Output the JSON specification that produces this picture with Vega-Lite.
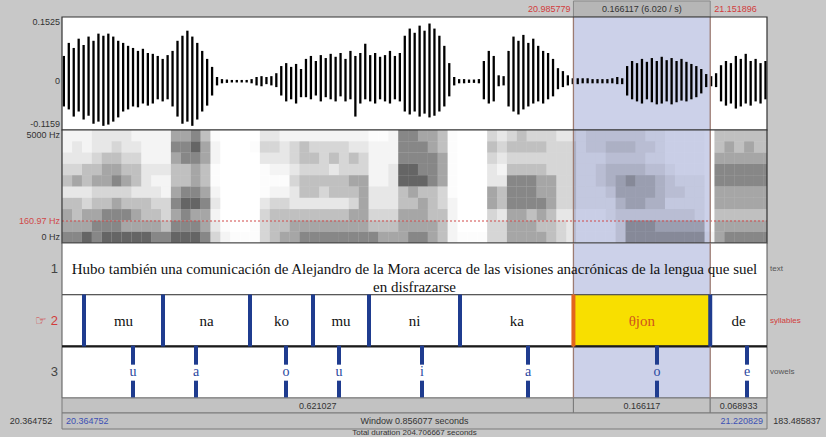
{
"$schema":"https://vega.github.io/schema/vega-lite/v6.json",
"background":"#c8c8c8",
"padding":0,
"spacing":0,
"bounds":"flush",
"config":{"view":{"stroke":null},"font":"Liberation Sans"},
"datasets":{
"sel":[{"s":20.985779,"e":21.151896,"m":21.0688375,"len":"0.166117 (6.020 / s)","sl":"20.985779","el":"21.151896"}],
"wave":[
{"t":20.367,"hi":0.060,"lo":-0.060},{"t":20.373,"hi":0.091,"lo":-0.067},{"t":20.379,"hi":0.079,"lo":-0.084},{"t":20.385,"hi":0.101,"lo":-0.072},
{"t":20.391,"hi":0.086,"lo":-0.091},{"t":20.397,"hi":0.106,"lo":-0.082},{"t":20.403,"hi":0.096,"lo":-0.101},{"t":20.409,"hi":0.113,"lo":-0.096},
{"t":20.415,"hi":0.108,"lo":-0.106},{"t":20.421,"hi":0.113,"lo":-0.103},{"t":20.427,"hi":0.106,"lo":-0.096},{"t":20.433,"hi":0.096,"lo":-0.086},
{"t":20.439,"hi":0.091,"lo":-0.072},{"t":20.445,"hi":0.084,"lo":-0.067},{"t":20.451,"hi":0.079,"lo":-0.060},{"t":20.457,"hi":0.072,"lo":-0.062},
{"t":20.463,"hi":0.077,"lo":-0.053},{"t":20.469,"hi":0.067,"lo":-0.058},{"t":20.475,"hi":0.065,"lo":-0.053},{"t":20.481,"hi":0.060,"lo":-0.043},
{"t":20.487,"hi":0.053,"lo":-0.048},{"t":20.493,"hi":0.062,"lo":-0.043},{"t":20.499,"hi":0.072,"lo":-0.060},{"t":20.505,"hi":0.096,"lo":-0.084},
{"t":20.511,"hi":0.108,"lo":-0.101},{"t":20.517,"hi":0.120,"lo":-0.096},{"t":20.523,"hi":0.106,"lo":-0.106},{"t":20.529,"hi":0.091,"lo":-0.091},
{"t":20.535,"hi":0.072,"lo":-0.072},{"t":20.541,"hi":0.053,"lo":-0.058},{"t":20.547,"hi":0.034,"lo":-0.034},{"t":20.553,"hi":0.010,"lo":-0.010},
{"t":20.559,"hi":0.005,"lo":-0.005},{"t":20.565,"hi":0.004,"lo":-0.004},{"t":20.571,"hi":0.003,"lo":-0.003},{"t":20.577,"hi":0.003,"lo":-0.003},
{"t":20.583,"hi":0.003,"lo":-0.003},{"t":20.589,"hi":0.003,"lo":-0.003},{"t":20.595,"hi":0.005,"lo":-0.005},{"t":20.601,"hi":0.010,"lo":-0.010},
{"t":20.607,"hi":0.012,"lo":-0.012},{"t":20.613,"hi":0.010,"lo":-0.007},{"t":20.619,"hi":0.012,"lo":-0.010},{"t":20.625,"hi":0.019,"lo":-0.014},
{"t":20.631,"hi":0.036,"lo":-0.034},{"t":20.637,"hi":0.043,"lo":-0.048},{"t":20.643,"hi":0.034,"lo":-0.043},{"t":20.649,"hi":0.041,"lo":-0.053},
{"t":20.655,"hi":0.029,"lo":-0.038},{"t":20.661,"hi":0.053,"lo":-0.038},{"t":20.667,"hi":0.060,"lo":-0.043},{"t":20.673,"hi":0.048,"lo":-0.034},
{"t":20.679,"hi":0.062,"lo":-0.048},{"t":20.685,"hi":0.055,"lo":-0.038},{"t":20.691,"hi":0.065,"lo":-0.043},{"t":20.697,"hi":0.058,"lo":-0.048},
{"t":20.703,"hi":0.067,"lo":-0.036},{"t":20.709,"hi":0.053,"lo":-0.048},{"t":20.715,"hi":0.072,"lo":-0.043},{"t":20.721,"hi":0.060,"lo":-0.084},
{"t":20.727,"hi":0.067,"lo":-0.053},{"t":20.733,"hi":0.089,"lo":-0.043},{"t":20.739,"hi":0.062,"lo":-0.048},{"t":20.745,"hi":0.067,"lo":-0.053},
{"t":20.751,"hi":0.058,"lo":-0.043},{"t":20.757,"hi":0.062,"lo":-0.048},{"t":20.763,"hi":0.072,"lo":-0.053},{"t":20.769,"hi":0.060,"lo":-0.043},
{"t":20.775,"hi":0.067,"lo":-0.048},{"t":20.781,"hi":0.108,"lo":-0.072},{"t":20.787,"hi":0.125,"lo":-0.079},{"t":20.793,"hi":0.115,"lo":-0.072},
{"t":20.799,"hi":0.132,"lo":-0.084},{"t":20.805,"hi":0.120,"lo":-0.077},{"t":20.811,"hi":0.137,"lo":-0.086},{"t":20.817,"hi":0.125,"lo":-0.082},
{"t":20.823,"hi":0.108,"lo":-0.072},{"t":20.829,"hi":0.084,"lo":-0.060},{"t":20.835,"hi":0.043,"lo":-0.036},{"t":20.841,"hi":0.010,"lo":-0.010},
{"t":20.847,"hi":0.005,"lo":-0.005},{"t":20.853,"hi":0.005,"lo":-0.005},{"t":20.859,"hi":0.004,"lo":-0.004},{"t":20.865,"hi":0.004,"lo":-0.004},
{"t":20.871,"hi":0.005,"lo":-0.005},{"t":20.877,"hi":0.048,"lo":-0.043},{"t":20.883,"hi":0.072,"lo":-0.053},{"t":20.889,"hi":0.060,"lo":-0.048},
{"t":20.895,"hi":0.014,"lo":-0.012},{"t":20.901,"hi":0.012,"lo":-0.010},{"t":20.907,"hi":0.072,"lo":-0.060},{"t":20.913,"hi":0.106,"lo":-0.072},
{"t":20.919,"hi":0.096,"lo":-0.079},{"t":20.925,"hi":0.110,"lo":-0.067},{"t":20.931,"hi":0.091,"lo":-0.060},{"t":20.937,"hi":0.101,"lo":-0.053},
{"t":20.943,"hi":0.084,"lo":-0.048},{"t":20.949,"hi":0.072,"lo":-0.053},{"t":20.955,"hi":0.067,"lo":-0.043},{"t":20.961,"hi":0.053,"lo":-0.036},
{"t":20.967,"hi":0.031,"lo":-0.019},{"t":20.973,"hi":0.024,"lo":-0.014},{"t":20.979,"hi":0.014,"lo":-0.010},{"t":20.985,"hi":0.007,"lo":-0.007},
{"t":20.991,"hi":0.007,"lo":-0.007},{"t":20.997,"hi":0.007,"lo":-0.005},{"t":21.003,"hi":0.007,"lo":-0.005},{"t":21.009,"hi":0.005,"lo":-0.005},
{"t":21.015,"hi":0.005,"lo":-0.005},{"t":21.021,"hi":0.005,"lo":-0.005},{"t":21.027,"hi":0.005,"lo":-0.005},{"t":21.033,"hi":0.007,"lo":-0.005},
{"t":21.039,"hi":0.010,"lo":-0.007},{"t":21.045,"hi":0.007,"lo":-0.007},{"t":21.051,"hi":0.036,"lo":-0.034},{"t":21.057,"hi":0.048,"lo":-0.043},
{"t":21.063,"hi":0.043,"lo":-0.048},{"t":21.069,"hi":0.053,"lo":-0.053},{"t":21.075,"hi":0.046,"lo":-0.043},{"t":21.081,"hi":0.055,"lo":-0.050},
{"t":21.087,"hi":0.048,"lo":-0.055},{"t":21.093,"hi":0.058,"lo":-0.053},{"t":21.099,"hi":0.050,"lo":-0.048},{"t":21.105,"hi":0.055,"lo":-0.055},
{"t":21.111,"hi":0.048,"lo":-0.050},{"t":21.117,"hi":0.053,"lo":-0.046},{"t":21.123,"hi":0.046,"lo":-0.048},{"t":21.129,"hi":0.041,"lo":-0.043},
{"t":21.135,"hi":0.036,"lo":-0.038},{"t":21.141,"hi":0.029,"lo":-0.029},{"t":21.147,"hi":0.017,"lo":-0.014},{"t":21.153,"hi":0.012,"lo":-0.012},
{"t":21.159,"hi":0.019,"lo":-0.014},{"t":21.165,"hi":0.038,"lo":-0.048},{"t":21.171,"hi":0.048,"lo":-0.058},{"t":21.177,"hi":0.043,"lo":-0.053},
{"t":21.183,"hi":0.060,"lo":-0.065},{"t":21.189,"hi":0.053,"lo":-0.060},{"t":21.195,"hi":0.065,"lo":-0.053},{"t":21.201,"hi":0.048,"lo":-0.058},
{"t":21.207,"hi":0.053,"lo":-0.048},{"t":21.213,"hi":0.043,"lo":-0.053},{"t":21.219,"hi":0.048,"lo":-0.043}
],
"spec":[
{"t":20.365,"u":20.377,"h0":7,"h1":6,"h2":6,"h3":5,"h4":3,"h5":5,"h6":4,"h7":3,"h8":2,"h9":2},
{"t":20.377,"u":20.389,"h0":7,"h1":6,"h2":5,"h3":5,"h4":3,"h5":6,"h6":4,"h7":3,"h8":3,"h9":2},
{"t":20.389,"u":20.401,"h0":8,"h1":6,"h2":6,"h3":4,"h4":3,"h5":5,"h6":5,"h7":3,"h8":2,"h9":2},
{"t":20.401,"u":20.413,"h0":7,"h1":7,"h2":6,"h3":5,"h4":4,"h5":6,"h6":5,"h7":4,"h8":3,"h9":3},
{"t":20.413,"u":20.425,"h0":8,"h1":7,"h2":7,"h3":5,"h4":4,"h5":6,"h6":6,"h7":5,"h8":3,"h9":3},
{"t":20.425,"u":20.437,"h0":8,"h1":7,"h2":7,"h3":6,"h4":4,"h5":7,"h6":6,"h7":5,"h8":4,"h9":3},
{"t":20.437,"u":20.449,"h0":8,"h1":6,"h2":7,"h3":5,"h4":4,"h5":6,"h6":5,"h7":4,"h8":3,"h9":3},
{"t":20.449,"u":20.461,"h0":8,"h1":6,"h2":6,"h3":5,"h4":3,"h5":5,"h6":5,"h7":4,"h8":3,"h9":2},
{"t":20.461,"u":20.473,"h0":8,"h1":6,"h2":5,"h3":5,"h4":3,"h5":3,"h6":3,"h7":2,"h8":2,"h9":2},
{"t":20.473,"u":20.485,"h0":7,"h1":6,"h2":5,"h3":4,"h4":3,"h5":2,"h6":3,"h7":2,"h8":2,"h9":2},
{"t":20.485,"u":20.497,"h0":7,"h1":5,"h2":4,"h3":4,"h4":2,"h5":2,"h6":3,"h7":2,"h8":2,"h9":2},
{"t":20.497,"u":20.509,"h0":8,"h1":7,"h2":6,"h3":7,"h4":6,"h5":5,"h6":5,"h7":6,"h8":7,"h9":6},
{"t":20.509,"u":20.521,"h0":8,"h1":7,"h2":7,"h3":8,"h4":7,"h5":5,"h6":5,"h7":7,"h8":7,"h9":6},
{"t":20.521,"u":20.533,"h0":8,"h1":7,"h2":6,"h3":8,"h4":7,"h5":6,"h6":6,"h7":7,"h8":8,"h9":7},
{"t":20.533,"u":20.545,"h0":7,"h1":6,"h2":6,"h3":7,"h4":6,"h5":5,"h6":5,"h7":6,"h8":6,"h9":5},
{"t":20.545,"u":20.557,"h0":4,"h1":3,"h2":2,"h3":3,"h4":2,"h5":1,"h6":1,"h7":2,"h8":2,"h9":1},
{"t":20.557,"u":20.569,"h0":2,"h1":1,"h2":0,"h3":0,"h4":0,"h5":0,"h6":0,"h7":0,"h8":0,"h9":0},
{"t":20.569,"u":20.581,"h0":1,"h1":0,"h2":0,"h3":0,"h4":0,"h5":0,"h6":0,"h7":0,"h8":0,"h9":0},
{"t":20.581,"u":20.593,"h0":1,"h1":0,"h2":0,"h3":0,"h4":0,"h5":0,"h6":0,"h7":0,"h8":0,"h9":0},
{"t":20.593,"u":20.605,"h0":1,"h1":1,"h2":0,"h3":0,"h4":0,"h5":0,"h6":0,"h7":0,"h8":1,"h9":0},
{"t":20.605,"u":20.617,"h0":4,"h1":4,"h2":4,"h3":3,"h4":1,"h5":1,"h6":1,"h7":3,"h8":4,"h9":3},
{"t":20.617,"u":20.629,"h0":5,"h1":5,"h2":5,"h3":4,"h4":2,"h5":1,"h6":2,"h7":3,"h8":4,"h9":3},
{"t":20.629,"u":20.641,"h0":6,"h1":5,"h2":5,"h3":4,"h4":2,"h5":1,"h6":2,"h7":3,"h8":3,"h9":2},
{"t":20.641,"u":20.653,"h0":6,"h1":6,"h2":5,"h3":3,"h4":3,"h5":4,"h6":3,"h7":4,"h8":4,"h9":2},
{"t":20.653,"u":20.665,"h0":7,"h1":6,"h2":5,"h3":3,"h4":5,"h5":5,"h6":4,"h7":5,"h8":5,"h9":2},
{"t":20.665,"u":20.677,"h0":7,"h1":6,"h2":5,"h3":3,"h4":5,"h5":5,"h6":4,"h7":5,"h8":4,"h9":2},
{"t":20.677,"u":20.689,"h0":7,"h1":6,"h2":5,"h3":3,"h4":4,"h5":5,"h6":4,"h7":4,"h8":4,"h9":2},
{"t":20.689,"u":20.701,"h0":7,"h1":6,"h2":5,"h3":3,"h4":5,"h5":5,"h6":3,"h7":5,"h8":4,"h9":2},
{"t":20.701,"u":20.713,"h0":7,"h1":6,"h2":5,"h3":3,"h4":5,"h5":5,"h6":4,"h7":4,"h8":4,"h9":2},
{"t":20.713,"u":20.725,"h0":7,"h1":6,"h2":6,"h3":4,"h4":5,"h5":6,"h6":4,"h7":5,"h8":3,"h9":2},
{"t":20.725,"u":20.737,"h0":7,"h1":6,"h2":6,"h3":6,"h4":6,"h5":6,"h6":4,"h7":4,"h8":3,"h9":2},
{"t":20.737,"u":20.749,"h0":7,"h1":5,"h2":4,"h3":3,"h4":3,"h5":2,"h6":2,"h7":2,"h8":2,"h9":1},
{"t":20.749,"u":20.761,"h0":6,"h1":5,"h2":4,"h3":3,"h4":3,"h5":2,"h6":2,"h7":2,"h8":2,"h9":1},
{"t":20.761,"u":20.773,"h0":6,"h1":5,"h2":4,"h3":3,"h4":3,"h5":3,"h6":3,"h7":2,"h8":2,"h9":2},
{"t":20.773,"u":20.785,"h0":6,"h1":6,"h2":6,"h3":5,"h4":5,"h5":8,"h6":8,"h7":7,"h8":7,"h9":7},
{"t":20.785,"u":20.797,"h0":7,"h1":6,"h2":6,"h3":5,"h4":6,"h5":8,"h6":8,"h7":7,"h8":7,"h9":7},
{"t":20.797,"u":20.809,"h0":7,"h1":6,"h2":6,"h3":6,"h4":5,"h5":8,"h6":7,"h7":7,"h8":7,"h9":6},
{"t":20.809,"u":20.821,"h0":6,"h1":6,"h2":5,"h3":5,"h4":5,"h5":7,"h6":7,"h7":7,"h8":6,"h9":6},
{"t":20.821,"u":20.833,"h0":5,"h1":5,"h2":5,"h3":4,"h4":4,"h5":6,"h6":6,"h7":6,"h8":5,"h9":5},
{"t":20.833,"u":20.845,"h0":2,"h1":2,"h2":2,"h3":2,"h4":1,"h5":1,"h6":1,"h7":1,"h8":1,"h9":1},
{"t":20.845,"u":20.857,"h0":1,"h1":0,"h2":0,"h3":0,"h4":0,"h5":0,"h6":0,"h7":0,"h8":0,"h9":0},
{"t":20.857,"u":20.869,"h0":1,"h1":0,"h2":0,"h3":0,"h4":0,"h5":0,"h6":0,"h7":0,"h8":0,"h9":0},
{"t":20.869,"u":20.881,"h0":1,"h1":0,"h2":0,"h3":0,"h4":0,"h5":0,"h6":0,"h7":0,"h8":0,"h9":0},
{"t":20.881,"u":20.893,"h0":4,"h1":4,"h2":4,"h3":6,"h4":6,"h5":3,"h6":3,"h7":4,"h8":5,"h9":4},
{"t":20.893,"u":20.905,"h0":4,"h1":4,"h2":3,"h3":5,"h4":5,"h5":3,"h6":2,"h7":3,"h8":4,"h9":3},
{"t":20.905,"u":20.917,"h0":6,"h1":6,"h2":6,"h3":7,"h4":7,"h5":7,"h6":5,"h7":4,"h8":5,"h9":4},
{"t":20.917,"u":20.929,"h0":6,"h1":6,"h2":6,"h3":7,"h4":7,"h5":7,"h6":5,"h7":4,"h8":5,"h9":5},
{"t":20.929,"u":20.941,"h0":6,"h1":6,"h2":5,"h3":7,"h4":7,"h5":7,"h6":5,"h7":4,"h8":5,"h9":4},
{"t":20.941,"u":20.953,"h0":6,"h1":5,"h2":6,"h3":7,"h4":6,"h5":6,"h6":5,"h7":4,"h8":5,"h9":4},
{"t":20.953,"u":20.965,"h0":5,"h1":5,"h2":5,"h3":6,"h4":6,"h5":6,"h6":4,"h7":4,"h8":4,"h9":4},
{"t":20.965,"u":20.977,"h0":4,"h1":4,"h2":3,"h3":4,"h4":4,"h5":4,"h6":4,"h7":4,"h8":4,"h9":3},
{"t":20.977,"u":20.989,"h0":3,"h1":3,"h2":3,"h3":4,"h4":4,"h5":4,"h6":4,"h7":4,"h8":4,"h9":3},
{"t":20.989,"u":21.001,"h0":1,"h1":1,"h2":1,"h3":2,"h4":2,"h5":2,"h6":2,"h7":2,"h8":2,"h9":2},
{"t":21.001,"u":21.013,"h0":1,"h1":1,"h2":1,"h3":2,"h4":2,"h5":2,"h6":2,"h7":2,"h8":3,"h9":3},
{"t":21.013,"u":21.025,"h0":1,"h1":1,"h2":1,"h3":2,"h4":2,"h5":3,"h6":3,"h7":2,"h8":3,"h9":3},
{"t":21.025,"u":21.037,"h0":1,"h1":1,"h2":2,"h3":2,"h4":3,"h5":4,"h6":4,"h7":3,"h8":4,"h9":3},
{"t":21.037,"u":21.049,"h0":3,"h1":3,"h2":3,"h3":4,"h4":5,"h5":5,"h6":4,"h7":3,"h8":4,"h9":3},
{"t":21.049,"u":21.061,"h0":6,"h1":6,"h2":3,"h3":5,"h4":5,"h5":6,"h6":4,"h7":3,"h8":4,"h9":3},
{"t":21.061,"u":21.073,"h0":6,"h1":6,"h2":3,"h3":5,"h4":5,"h5":5,"h6":4,"h7":3,"h8":3,"h9":3},
{"t":21.073,"u":21.085,"h0":6,"h1":6,"h2":3,"h3":4,"h4":5,"h5":5,"h6":3,"h7":2,"h8":3,"h9":2},
{"t":21.085,"u":21.097,"h0":6,"h1":5,"h2":3,"h3":4,"h4":4,"h5":4,"h6":3,"h7":2,"h8":2,"h9":2},
{"t":21.097,"u":21.109,"h0":6,"h1":5,"h2":3,"h3":2,"h4":3,"h5":3,"h6":2,"h7":1,"h8":1,"h9":1},
{"t":21.109,"u":21.121,"h0":6,"h1":5,"h2":3,"h3":2,"h4":3,"h5":2,"h6":1,"h7":1,"h8":1,"h9":1},
{"t":21.121,"u":21.133,"h0":6,"h1":5,"h2":3,"h3":2,"h4":2,"h5":2,"h6":1,"h7":1,"h8":1,"h9":1},
{"t":21.133,"u":21.145,"h0":6,"h1":5,"h2":2,"h3":2,"h4":2,"h5":2,"h6":1,"h7":1,"h8":1,"h9":1},
{"t":21.145,"u":21.157,"h0":2,"h1":1,"h2":0,"h3":0,"h4":0,"h5":0,"h6":0,"h7":0,"h8":0,"h9":0},
{"t":21.157,"u":21.169,"h0":6,"h1":6,"h2":5,"h3":6,"h4":6,"h5":7,"h6":7,"h7":6,"h8":5,"h9":5},
{"t":21.169,"u":21.181,"h0":7,"h1":6,"h2":5,"h3":6,"h4":6,"h5":7,"h6":7,"h7":6,"h8":6,"h9":5},
{"t":21.181,"u":21.193,"h0":7,"h1":6,"h2":5,"h3":6,"h4":6,"h5":7,"h6":7,"h7":6,"h8":5,"h9":5},
{"t":21.193,"u":21.205,"h0":7,"h1":6,"h2":5,"h3":6,"h4":6,"h5":7,"h6":7,"h7":6,"h8":6,"h9":5},
{"t":21.205,"u":21.217,"h0":7,"h1":6,"h2":5,"h3":6,"h4":6,"h5":7,"h6":7,"h7":6,"h8":5,"h9":5},
{"t":21.217,"u":21.2208,"h0":7,"h1":6,"h2":5,"h3":6,"h4":6,"h5":7,"h6":7,"h7":6,"h8":5,"h9":5}
],
"syl":[
{"syl":"mu","tier":"syllables","start":20.39146,"end":20.48739,"mid":20.43943},
{"syl":"na","tier":"syllables","start":20.48739,"end":20.59304,"mid":20.54022},
{"syl":"ko","tier":"syllables","start":20.59304,"end":20.66954,"mid":20.63129},
{"syl":"mu","tier":"syllables","start":20.66954,"end":20.73754,"mid":20.70354},
{"syl":"ni","tier":"syllables","start":20.73754,"end":20.84804,"mid":20.79279},
{"syl":"ka","tier":"syllables","start":20.84804,"end":20.985779,"mid":20.91691},
{"syl":"θjon","tier":"syllables","start":20.985779,"end":21.151896,"mid":21.06884},
{"syl":"de","tier":"syllables","start":21.151896,"end":21.220829,"mid":21.18636}
],
"vow":[
{"v":"u","tier":"vowels","t":20.45097},{"v":"a","tier":"vowels","t":20.52747},{"v":"o","tier":"vowels","t":20.63676},{"v":"u","tier":"vowels","t":20.70111},
{"v":"i","tier":"vowels","t":20.80190},{"v":"a","tier":"vowels","t":20.93061},{"v":"o","tier":"vowels","t":21.08726},{"v":"e","tier":"vowels","t":21.19655}
],
"tiers":[{"tier":"text","n":"1"},{"tier":"syllables","n":"☞ 2"},{"tier":"vowels","n":"3"}],
"txt":[{"tier":"text","lines":["Hubo también una comunicación de Alejandro de la Mora acerca de las visiones anacrónicas de la lengua que suel","en disfrazarse"]}],
"dur":[
{"s":20.364752,"e":20.985779,"m":20.6752655,"lab":"0.621027"},
{"s":20.985779,"e":21.151896,"m":21.0688375,"lab":"0.166117"},
{"s":21.151896,"e":21.220829,"m":21.1863625,"lab":"0.068933"}
]
},
"vconcat":[
{
"width":826,"height":16,
"data":{"name":"sel"},
"layer":[
{"mark":{"type":"rect","fill":"#b6b6b6","stroke":"#888888","strokeWidth":1},
 "encoding":{"x":{"field":"s","type":"quantitative","scale":{"domain":[20.364752,21.220829],"range":[62,767]},"axis":null},"x2":{"field":"e"}}},
{"mark":{"type":"text","align":"right","dx":-3,"fontSize":9,"color":"#d23c3c"},
 "encoding":{"x":{"field":"s","type":"quantitative","scale":{"domain":[20.364752,21.220829],"range":[62,767]},"axis":null},"text":{"field":"sl"}}},
{"mark":{"type":"text","align":"center","fontSize":9,"color":"#333333"},
 "encoding":{"x":{"field":"m","type":"quantitative","scale":{"domain":[20.364752,21.220829],"range":[62,767]},"axis":null},"text":{"field":"len"}}},
{"mark":{"type":"text","align":"left","dx":4,"fontSize":9,"color":"#d23c3c"},
 "encoding":{"x":{"field":"e","type":"quantitative","scale":{"domain":[20.364752,21.220829],"range":[62,767]},"axis":null},"text":{"field":"el"}}}
]
},
{
"width":826,"height":113,
"layer":[
{"data":{"values":[{}]},"mark":{"type":"rect","fill":"white"},
 "encoding":{"x":{"datum":20.364752,"type":"quantitative","scale":{"domain":[20.364752,21.220829],"range":[62,767]},"axis":null},"x2":{"datum":21.220829}}},
{"data":{"name":"sel"},"mark":{"type":"rect","fill":"#ccd1e9"},
 "encoding":{"x":{"field":"s","type":"quantitative","scale":{"domain":[20.364752,21.220829],"range":[62,767]},"axis":null},"x2":{"field":"e"}}},
{"data":{"name":"wave"},"mark":{"type":"rule","color":"#000000","strokeWidth":2.3},
 "encoding":{"x":{"field":"t","type":"quantitative","scale":{"domain":[20.364752,21.220829],"range":[62,767]},"axis":null},
  "y":{"field":"hi","type":"quantitative","scale":{"domain":[-0.1159,0.1525],"nice":false,"zero":false},"axis":null},"y2":{"field":"lo"}}},
{"data":{"name":"sel"},"transform":[{"fold":["s","e"],"as":["edge","te"]}],"mark":{"type":"rule","color":"#9c7b72","strokeWidth":1.3},
 "encoding":{"x":{"field":"te","type":"quantitative","scale":{"domain":[20.364752,21.220829],"range":[62,767]},"axis":null}}},
{"data":{"values":[{}]},"mark":{"type":"rect","fillOpacity":0,"stroke":"#333333","strokeWidth":1.2},
 "encoding":{"x":{"datum":20.364752,"type":"quantitative","scale":{"domain":[20.364752,21.220829],"range":[62,767]},"axis":null},"x2":{"datum":21.220829}}},
{"data":{"values":[{}]},"mark":{"type":"text","align":"right","baseline":"top","dx":-2,"dy":1,"fontSize":9,"color":"#333333"},
 "encoding":{"x":{"datum":20.364752,"type":"quantitative","scale":{"domain":[20.364752,21.220829],"range":[62,767]},"axis":null},
  "y":{"datum":0.1525,"type":"quantitative","scale":{"domain":[-0.1159,0.1525],"nice":false,"zero":false},"axis":null},"text":{"value":"0.1525"}}},
{"data":{"values":[{}]},"mark":{"type":"text","align":"right","baseline":"middle","dx":-2,"fontSize":9,"color":"#333333"},
 "encoding":{"x":{"datum":20.364752,"type":"quantitative","scale":{"domain":[20.364752,21.220829],"range":[62,767]},"axis":null},
  "y":{"datum":0,"type":"quantitative","scale":{"domain":[-0.1159,0.1525],"nice":false,"zero":false},"axis":null},"text":{"value":"0"}}},
{"data":{"values":[{}]},"mark":{"type":"text","align":"right","baseline":"bottom","dx":-2,"dy":-1,"fontSize":9,"color":"#333333"},
 "encoding":{"x":{"datum":20.364752,"type":"quantitative","scale":{"domain":[20.364752,21.220829],"range":[62,767]},"axis":null},
  "y":{"datum":-0.1159,"type":"quantitative","scale":{"domain":[-0.1159,0.1525],"nice":false,"zero":false},"axis":null},"text":{"value":"-0.1159"}}}
]
},
{
"width":826,"height":113,
"resolve":{"scale":{"y":"independent"}},
"layer":[
{"data":{"values":[{}]},"mark":{"type":"rect","fill":"white"},
 "encoding":{"x":{"datum":20.364752,"type":"quantitative","scale":{"domain":[20.364752,21.220829],"range":[62,767]},"axis":null},"x2":{"datum":21.220829}}},
{"data":{"name":"sel"},"mark":{"type":"rect","fill":"#ccd1e9"},
 "encoding":{"x":{"field":"s","type":"quantitative","scale":{"domain":[20.364752,21.220829],"range":[62,767]},"axis":null},"x2":{"field":"e"}}},
{"data":{"name":"spec"},"transform":[{"fold":["h0","h1","h2","h3","h4","h5","h6","h7","h8","h9"],"as":["band","v"]}],
 "mark":{"type":"rect","fill":"#141414"},
 "encoding":{"x":{"field":"t","type":"quantitative","scale":{"domain":[20.364752,21.220829],"range":[62,767]},"axis":null},"x2":{"field":"u"},
  "y":{"field":"band","type":"nominal","scale":{"domain":["h9","h8","h7","h6","h5","h4","h3","h2","h1","h0"],"paddingInner":0,"paddingOuter":0},"axis":null},
  "opacity":{"field":"v","type":"quantitative","scale":{"type":"pow","exponent":1.9,"domain":[0,9],"range":[0,0.82]},"legend":null}}},
{"layer":[
 {"data":{"values":[{}]},"mark":{"type":"rule","color":"#d04848","strokeWidth":1,"strokeDash":[2,2]},
  "encoding":{"x":{"datum":20.364752,"type":"quantitative","scale":{"domain":[20.364752,21.220829],"range":[62,767]},"axis":null},"x2":{"datum":21.220829},
   "y":{"datum":973,"type":"quantitative","scale":{"domain":[0,5000],"nice":false,"zero":false},"axis":null}}},
 {"data":{"values":[{}]},"mark":{"type":"text","align":"right","baseline":"top","dx":-2,"dy":1,"fontSize":9,"color":"#333333"},
  "encoding":{"x":{"datum":20.364752,"type":"quantitative","scale":{"domain":[20.364752,21.220829],"range":[62,767]},"axis":null},
   "y":{"datum":5000,"type":"quantitative","scale":{"domain":[0,5000],"nice":false,"zero":false},"axis":null},"text":{"value":"5000 Hz"}}},
 {"data":{"values":[{}]},"mark":{"type":"text","align":"right","baseline":"middle","dx":-2,"fontSize":9,"color":"#d04848"},
  "encoding":{"x":{"datum":20.364752,"type":"quantitative","scale":{"domain":[20.364752,21.220829],"range":[62,767]},"axis":null},
   "y":{"datum":973,"type":"quantitative","scale":{"domain":[0,5000],"nice":false,"zero":false},"axis":null},"text":{"value":"160.97 Hz"}}},
 {"data":{"values":[{}]},"mark":{"type":"text","align":"right","baseline":"bottom","dx":-2,"dy":-1,"fontSize":9,"color":"#333333"},
  "encoding":{"x":{"datum":20.364752,"type":"quantitative","scale":{"domain":[20.364752,21.220829],"range":[62,767]},"axis":null},
   "y":{"datum":0,"type":"quantitative","scale":{"domain":[0,5000],"nice":false,"zero":false},"axis":null},"text":{"value":"0 Hz"}}}
]},
{"data":{"name":"sel"},"transform":[{"fold":["s","e"],"as":["edge","te"]}],"mark":{"type":"rule","color":"#9c7b72","strokeWidth":1.3},
 "encoding":{"x":{"field":"te","type":"quantitative","scale":{"domain":[20.364752,21.220829],"range":[62,767]},"axis":null}}},
{"data":{"values":[{}]},"mark":{"type":"rect","fillOpacity":0,"stroke":"#333333","strokeWidth":1.2},
 "encoding":{"x":{"datum":20.364752,"type":"quantitative","scale":{"domain":[20.364752,21.220829],"range":[62,767]},"axis":null},"x2":{"datum":21.220829}}}
]
},
{
"width":826,"height":155,
"layer":[
{"data":{"values":[{}]},"mark":{"type":"rect","fill":"white"},
 "encoding":{"x":{"datum":20.364752,"type":"quantitative","scale":{"domain":[20.364752,21.220829],"range":[62,767]},"axis":null},"x2":{"datum":21.220829}}},
{"data":{"name":"sel"},"mark":{"type":"rect","fill":"#ccd1e9"},
 "encoding":{"x":{"field":"s","type":"quantitative","scale":{"domain":[20.364752,21.220829],"range":[62,767]},"axis":null},"x2":{"field":"e"}}},
{"data":{"name":"syl"},"transform":[{"filter":"datum.syl === 'θjon'"}],"mark":{"type":"rect","fill":"#f8df00"},
 "encoding":{"x":{"field":"start","type":"quantitative","scale":{"domain":[20.364752,21.220829],"range":[62,767]},"axis":null},"x2":{"field":"end"},
  "y":{"field":"tier","type":"nominal","scale":{"domain":["text","syllables","vowels"],"paddingInner":0,"paddingOuter":0},"axis":null}}},
{"data":{"name":"tiers"},"mark":{"type":"rect","fillOpacity":0,"stroke":"#555555","strokeWidth":1},
 "encoding":{"x":{"datum":20.364752,"type":"quantitative","scale":{"domain":[20.364752,21.220829],"range":[62,767]},"axis":null},"x2":{"datum":21.220829},
  "y":{"field":"tier","type":"nominal","scale":{"domain":["text","syllables","vowels"],"paddingInner":0,"paddingOuter":0},"axis":null}}},
{"data":{"name":"tiers"},"transform":[{"filter":"datum.tier === 'vowels'"}],"mark":{"type":"rule","color":"#1a1a1a","strokeWidth":2.2},
 "encoding":{"x":{"datum":20.364752,"type":"quantitative","scale":{"domain":[20.364752,21.220829],"range":[62,767]},"axis":null},"x2":{"datum":21.220829},
  "y":{"field":"tier","type":"nominal","bandPosition":0,"scale":{"domain":["text","syllables","vowels"],"paddingInner":0,"paddingOuter":0},"axis":null}}},
{"data":{"name":"sel"},"transform":[{"fold":["s","e"],"as":["edge","te"]}],"mark":{"type":"rule","color":"#9c7b72","strokeWidth":1.3},
 "encoding":{"x":{"field":"te","type":"quantitative","scale":{"domain":[20.364752,21.220829],"range":[62,767]},"axis":null}}},
{"data":{"name":"syl"},"mark":{"type":"tick","thickness":4,"size":52,"opacity":1},
 "encoding":{"x":{"field":"start","type":"quantitative","scale":{"domain":[20.364752,21.220829],"range":[62,767]},"axis":null},
  "y":{"field":"tier","type":"nominal","scale":{"domain":["text","syllables","vowels"],"paddingInner":0,"paddingOuter":0},"axis":null},
  "color":{"condition":{"test":"datum.syl === 'θjon'","value":"#e2661c"},"value":"#1f3c8f"}}},
{"data":{"name":"vow"},"mark":{"type":"tick","thickness":4,"size":19,"yOffset":-17,"color":"#1f3c8f","opacity":1},
 "encoding":{"x":{"field":"t","type":"quantitative","scale":{"domain":[20.364752,21.220829],"range":[62,767]},"axis":null},
  "y":{"field":"tier","type":"nominal","scale":{"domain":["text","syllables","vowels"],"paddingInner":0,"paddingOuter":0},"axis":null}}},
{"data":{"name":"vow"},"mark":{"type":"tick","thickness":4,"size":17,"yOffset":17,"color":"#1f3c8f","opacity":1},
 "encoding":{"x":{"field":"t","type":"quantitative","scale":{"domain":[20.364752,21.220829],"range":[62,767]},"axis":null},
  "y":{"field":"tier","type":"nominal","scale":{"domain":["text","syllables","vowels"],"paddingInner":0,"paddingOuter":0},"axis":null}}},
{"data":{"name":"syl"},"mark":{"type":"text","font":"Liberation Serif","fontSize":15,"baseline":"middle"},
 "encoding":{"x":{"field":"mid","type":"quantitative","scale":{"domain":[20.364752,21.220829],"range":[62,767]},"axis":null},
  "y":{"field":"tier","type":"nominal","scale":{"domain":["text","syllables","vowels"],"paddingInner":0,"paddingOuter":0},"axis":null},
  "text":{"field":"syl"},
  "color":{"condition":{"test":"datum.syl === 'θjon'","value":"#d0541c"},"value":"#111111"}}},
{"data":{"name":"vow"},"mark":{"type":"text","font":"Liberation Serif","fontSize":14,"baseline":"middle","color":"#2a47a0"},
 "encoding":{"x":{"field":"t","type":"quantitative","scale":{"domain":[20.364752,21.220829],"range":[62,767]},"axis":null},
  "y":{"field":"tier","type":"nominal","scale":{"domain":["text","syllables","vowels"],"paddingInner":0,"paddingOuter":0},"axis":null},
  "text":{"field":"v"}}},
{"data":{"name":"txt"},"mark":{"type":"text","font":"Liberation Serif","fontSize":15,"baseline":"middle","lineHeight":18,"color":"#111111"},
 "encoding":{"x":{"datum":20.7927905,"type":"quantitative","scale":{"domain":[20.364752,21.220829],"range":[62,767]},"axis":null},
  "y":{"field":"tier","type":"nominal","scale":{"domain":["text","syllables","vowels"],"paddingInner":0,"paddingOuter":0},"axis":null},
  "text":{"field":"lines"}}},
{"data":{"name":"tiers"},"mark":{"type":"text","align":"right","dx":-4,"fontSize":13,"baseline":"middle"},
 "encoding":{"x":{"datum":20.364752,"type":"quantitative","scale":{"domain":[20.364752,21.220829],"range":[62,767]},"axis":null},
  "y":{"field":"tier","type":"nominal","scale":{"domain":["text","syllables","vowels"],"paddingInner":0,"paddingOuter":0},"axis":null},
  "text":{"field":"n"},
  "color":{"condition":{"test":"datum.tier === 'syllables'","value":"#d23c3c"},"value":"#444444"}}},
{"data":{"name":"tiers"},"mark":{"type":"text","align":"left","dx":3,"fontSize":8,"baseline":"middle"},
 "encoding":{"x":{"datum":21.220829,"type":"quantitative","scale":{"domain":[20.364752,21.220829],"range":[62,767]},"axis":null},
  "y":{"field":"tier","type":"nominal","scale":{"domain":["text","syllables","vowels"],"paddingInner":0,"paddingOuter":0},"axis":null},
  "text":{"field":"tier"},
  "color":{"condition":{"test":"datum.tier === 'syllables'","value":"#d23c3c"},"value":"#555555"}}}
]
},
{
"width":826,"height":15,
"layer":[
{"data":{"name":"dur"},"mark":{"type":"rect","fill":"#c2c2c2","stroke":"#7a7a7a","strokeWidth":1},
 "encoding":{"x":{"field":"s","type":"quantitative","scale":{"domain":[20.364752,21.220829],"range":[62,767]},"axis":null},"x2":{"field":"e"}}},
{"data":{"name":"dur"},"mark":{"type":"text","fontSize":9,"color":"#333333"},
 "encoding":{"x":{"field":"m","type":"quantitative","scale":{"domain":[20.364752,21.220829],"range":[62,767]},"axis":null},"text":{"field":"lab"}}}
]
},
{
"width":826,"height":16,
"data":{"values":[{}]},
"layer":[
{"mark":{"type":"rect","fill":"#c2c2c2","stroke":"#7a7a7a","strokeWidth":1},
 "encoding":{"x":{"datum":20.364752,"type":"quantitative","scale":{"domain":[20.364752,21.220829],"range":[62,767]},"axis":null},"x2":{"datum":21.220829}}},
{"mark":{"type":"text","fontSize":9,"color":"#333333"},
 "encoding":{"x":{"datum":20.7927905,"type":"quantitative","scale":{"domain":[20.364752,21.220829],"range":[62,767]},"axis":null},"text":{"value":"Window 0.856077 seconds"}}},
{"mark":{"type":"text","fontSize":9,"color":"#3c50b4","align":"left","dx":4},
 "encoding":{"x":{"datum":20.364752,"type":"quantitative","scale":{"domain":[20.364752,21.220829],"range":[62,767]},"axis":null},"text":{"value":"20.364752"}}},
{"mark":{"type":"text","fontSize":9,"color":"#3c50b4","align":"right","dx":-4},
 "encoding":{"x":{"datum":21.220829,"type":"quantitative","scale":{"domain":[20.364752,21.220829],"range":[62,767]},"axis":null},"text":{"value":"21.220829"}}},
{"mark":{"type":"text","fontSize":9,"color":"#333333","align":"center","dx":-31},
 "encoding":{"x":{"datum":20.364752,"type":"quantitative","scale":{"domain":[20.364752,21.220829],"range":[62,767]},"axis":null},"text":{"value":"20.364752"}}},
{"mark":{"type":"text","fontSize":9,"color":"#333333","align":"center","dx":30},
 "encoding":{"x":{"datum":21.220829,"type":"quantitative","scale":{"domain":[20.364752,21.220829],"range":[62,767]},"axis":null},"text":{"value":"183.485837"}}}
]
},
{
"width":826,"height":9,
"data":{"values":[{}]},
"mark":{"type":"text","fontSize":8,"color":"#333333","baseline":"middle","dy":-1},
"encoding":{"x":{"datum":20.7927905,"type":"quantitative","scale":{"domain":[20.364752,21.220829],"range":[62,767]},"axis":null},"text":{"value":"Total duration 204.706667 seconds"}}
}
]
}
